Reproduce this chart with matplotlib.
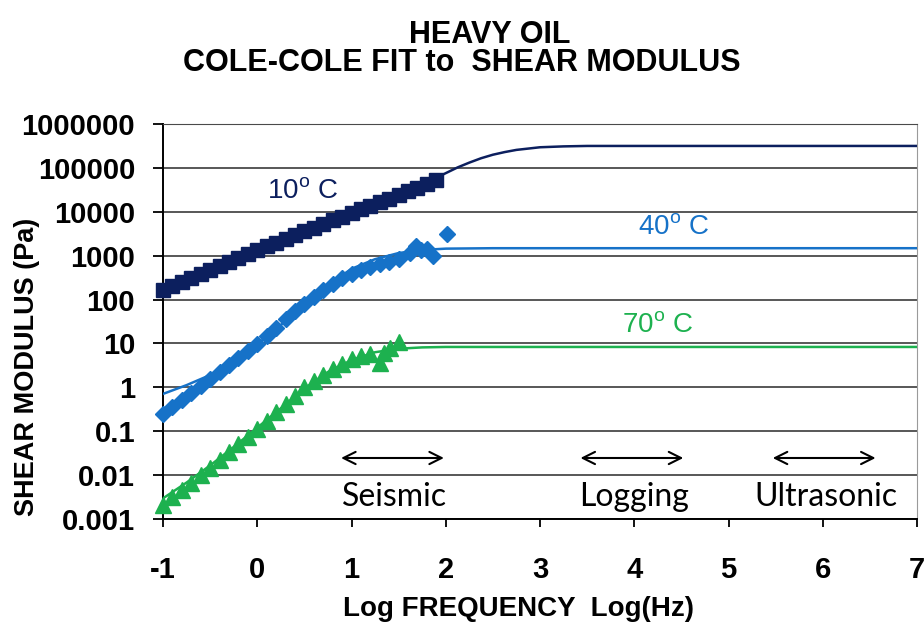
import numpy as np
import matplotlib
matplotlib.use("Agg")
import matplotlib.pyplot as plt

plt.rcParams['font.family'] = ['Liberation Sans', 'DejaVu Sans']
plt.rcParams['mathtext.fontset'] = 'custom'
plt.rcParams['mathtext.rm'] = 'Liberation Sans'
plt.rcParams['axes.unicode_minus'] = False

# measured data, log10 of frequency (Hz) and log10 of shear modulus (Pa)
f_10c = [-1.0, -0.9, -0.8, -0.7, -0.6, -0.5, -0.4, -0.3, -0.2, -0.1,
         0.0, 0.1, 0.2, 0.3, 0.4, 0.5, 0.6, 0.7, 0.8, 0.9,
         1.0, 1.1, 1.2, 1.3, 1.4, 1.5, 1.6, 1.7, 1.8, 1.9]
g_10c = [2.22, 2.31, 2.41, 2.50, 2.59, 2.68, 2.77, 2.86, 2.95, 3.04,
         3.13, 3.22, 3.30, 3.39, 3.48, 3.56, 3.64, 3.73, 3.81, 3.89,
         3.97, 4.06, 4.14, 4.22, 4.30, 4.38, 4.47, 4.55, 4.63, 4.72]

f_40c = [-1.0, -0.9, -0.8, -0.7, -0.6, -0.5, -0.4, -0.3, -0.2, -0.1,
         0.0, 0.1, 0.2, 0.3, 0.4, 0.5, 0.6, 0.7, 0.8, 0.9,
         1.0, 1.1, 1.2, 1.3, 1.4, 1.5, 1.62, 1.68, 1.74, 1.80, 1.87, 2.01]
g_40c = [-0.61, -0.45, -0.29, -0.13, 0.03, 0.19, 0.35, 0.51, 0.67, 0.83,
         0.99, 1.17, 1.36, 1.55, 1.74, 1.90, 2.05, 2.22, 2.36, 2.48,
         2.58, 2.67, 2.74, 2.80, 2.86, 2.92, 3.05, 3.22, 3.12, 3.15, 3.00, 3.50]

f_70c = [-1.0, -0.9, -0.8, -0.7, -0.6, -0.5, -0.4, -0.3, -0.2, -0.1,
         0.0, 0.1, 0.2, 0.3, 0.4, 0.5, 0.6, 0.7, 0.8, 0.9,
         1.0, 1.1, 1.2, 1.3, 1.35, 1.41, 1.5]
g_70c = [-2.68, -2.51, -2.34, -2.17, -2.00, -1.83, -1.65, -1.48, -1.30, -1.13,
         -0.95, -0.76, -0.57, -0.38, -0.19, 0.00, 0.15, 0.29, 0.42, 0.54,
         0.64, 0.72, 0.76, 0.56, 0.78, 0.90, 1.03]

# Cole-Cole fits
fit_f_10c = [-1.0, -0.5, 0.0, 0.5, 1.0, 1.5, 1.75, 1.875, 2.0, 2.125, 2.25, 2.375, 2.5,
             2.625, 2.75, 2.875, 3.0, 3.25, 3.5, 4.0, 5.0, 6.0, 7.0]
fit_g_10c = [2.25, 2.70, 3.13, 3.56, 3.98, 4.40, 4.62, 4.75, 4.88, 5.01, 5.12, 5.22, 5.30,
             5.36, 5.41, 5.44, 5.47, 5.49, 5.50, 5.50, 5.50, 5.50, 5.50]

fit_f_40c = [-1.0, -0.75, -0.5, -0.25, 0.0, 0.25, 0.5, 0.75, 1.0, 1.25, 1.5, 1.75,
             2.0, 2.5, 3.0, 7.0]
fit_g_40c = [-0.15, 0.05, 0.28, 0.60, 0.98, 1.42, 1.88, 2.33, 2.70, 2.92, 3.06, 3.13,
             3.16, 3.17, 3.17, 3.17]

fit_f_70c = [-1.0, -0.75, -0.5, -0.25, 0.0, 0.25, 0.5, 0.75, 1.0, 1.25, 1.5, 1.75,
             2.0, 3.0, 7.0]
fit_g_70c = [-2.53, -2.17, -1.78, -1.36, -0.92, -0.48, -0.03, 0.35, 0.62, 0.80, 0.88, 0.91,
             0.92, 0.92, 0.92]

bands = ["Seismic", "Logging", "Ultrasonic"]
band_lo = [0.86, 3.40, 5.44]
band_hi = [2.01, 4.55, 6.59]

yticks = [1e-3, 1e-2, 1e-1, 1, 10, 100, 1000, 10000, 100000, 1000000]
ytick_labels = ["0.001", "0.01", "0.1", "1", "10", "100", "1000", "10000", "100000", "1000000"]

c10 = "#0c1f5e"
c40 = "#1672c8"
c70 = "#1db14f"

fig = plt.figure(figsize=(9.24, 6.33), dpi=100)
ax = fig.add_axes([163/924, 1-519/633, 754/924, 395/633])

def pa(v):
    return 10.0 ** np.array(v)

ax.plot(fit_f_10c, pa(fit_g_10c), color=c10, lw=1.8, zorder=3)
ax.plot(fit_f_40c, pa(fit_g_40c), color=c40, lw=1.8, zorder=3)
ax.plot(fit_f_70c, pa(fit_g_70c), color=c70, lw=1.8, zorder=3)

ax.plot(f_10c, pa(g_10c), ls="none", marker="s", ms=10, color=c10, clip_on=False, zorder=4)
ax.plot(f_40c, pa(g_40c), ls="none", marker="D", ms=8.5, color=c40, clip_on=False, zorder=4)
ax.plot(f_70c, pa(g_70c), ls="none", marker="^", ms=11, color=c70, clip_on=False, zorder=4)

ax.set_yscale("log")
ax.set_xlim(-1, 7)
ax.set_ylim(1e-3, 1e6)
ax.set_yticks(yticks)
ax.set_yticklabels(ytick_labels)
ax.yaxis.set_minor_locator(matplotlib.ticker.NullLocator())
ax.set_xticks(range(-1, 8))
ax.grid(axis="y", color="#4a4a4a", lw=1.3, zorder=1)
ax.set_axisbelow(True)

for s in ["left", "bottom"]:
    ax.spines[s].set_color("black")
    ax.spines[s].set_linewidth(1.4)
ax.spines["right"].set_color("#9a9a9a")
ax.spines["top"].set_color("#4a4a4a")
ax.tick_params(axis="y", direction="out", length=7, width=1.3, pad=13,
               labelsize=21)
ax.tick_params(axis="x", direction="out", length=6, width=1.3, pad=21,
               labelsize=21)
for lab in ax.get_xticklabels() + ax.get_yticklabels():
    lab.set_fontweight("bold")

ax.set_xlabel("Log FREQUENCY  Log(Hz)", fontsize=20, fontweight="bold")
ax.xaxis.label.set_va("center")
ax.xaxis.set_label_coords(0.472, -0.228)
ax.set_ylabel("SHEAR MODULUS (Pa)", fontsize=19.5, fontweight="bold")
ax.yaxis.label.set_va("center")
ax.yaxis.set_label_coords(-0.18, 0.385)

fig.text(0.53, 0.945, "HEAVY OIL", ha="center", va="center", fontsize=22, fontweight="bold")
fig.text(0.50, 0.900, "COLE-COLE FIT to  SHEAR MODULUS", ha="center", va="center",
         fontsize=22, fontweight="bold")

ax.text(0.485, 10**4.45, r"10$^\mathregular{o}$ C", color=c10, fontsize=20, ha="center", va="center")
ax.text(4.42, 10**3.64, r"40$^\mathregular{o}$ C", color=c40, fontsize=20, ha="center", va="center")
ax.text(4.25, 10**1.40, r"70$^\mathregular{o}$ C", color=c70, fontsize=20, ha="center", va="center")

for name, lo, hi in zip(bands, band_lo, band_hi):
    ax.annotate("", xy=(lo, 10**-1.61), xytext=(hi, 10**-1.61),
                arrowprops=dict(arrowstyle="<->", color="black", lw=1.5,
                                mutation_scale=22))
    ax.text((lo + hi) / 2 + 0.02, 10**-2.5, name, fontsize=23, family="Lato",
            ha="center", va="center")

fig.savefig("out.png", dpi=100, facecolor="white")
